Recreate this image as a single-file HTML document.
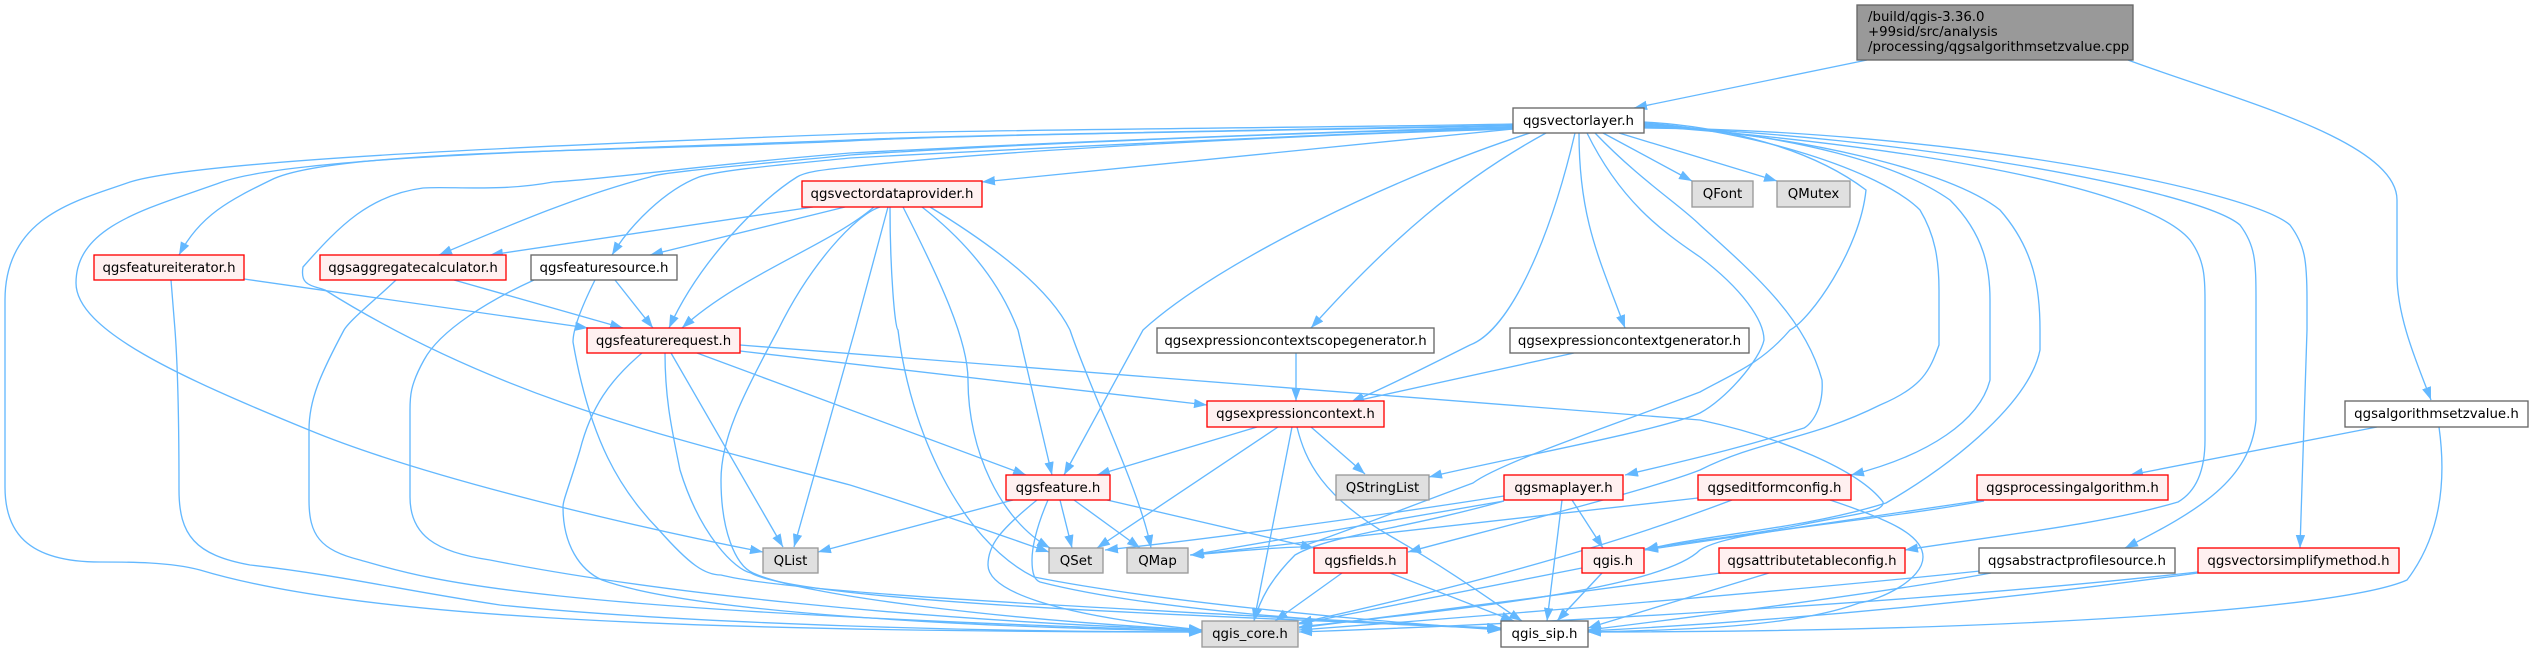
<!DOCTYPE html>
<html><head><meta charset="utf-8"><style>
html,body{margin:0;padding:0;background:#fff}
svg{display:block}
text{font-family:"DejaVu Sans",sans-serif;font-size:13.33px;fill:#000;text-anchor:middle}
.e path{fill:none;stroke:#63b8ff;stroke-width:1.33}
.n rect{stroke-width:1.33}
.r{fill:#fff0f0;stroke:#f00}
.w{fill:#fff;stroke:#666}
.g{fill:#e0e0e0;stroke:#999}
</style></head><body>
<svg width="2533" height="652" viewBox="0 0 2533 652" xmlns="http://www.w3.org/2000/svg">
<defs><marker id="a" markerUnits="userSpaceOnUse" markerWidth="15" markerHeight="11" refX="13" refY="4.7" orient="auto"><path d="M0,0 L13,4.7 L0,9.4 Z" style="fill:#63b8ff;stroke:none"/></marker></defs>
<g class="e">
<path marker-end="url(#a)" d="M1867 60 L1634 108"/>
<path marker-end="url(#a)" d="M2128 60 C2230 98 2397 140 2397 200 L2397 275 C2397 320 2420 370 2431 400"/>
<path marker-end="url(#a)" d="M1513 124 C1300 128 950 130 850 134 C550 145 200 160 130 182 C80 200 5 215 5 300 L5 487 C5 530 25 562 100 562 C130 562 170 562 200 570 C350 615 650 632 1202 632"/>
<path marker-end="url(#a)" d="M1513 125 C1300 130 950 135 850 140 C600 150 300 155 222 182 C150 208 76 225 76 283 C76 330 179 377 309 430 C430 480 650 530 763 552"/>
<path marker-end="url(#a)" d="M1513 126 C1300 130 950 135 850 141 C600 152 330 150 271 180 C230 200 200 215 179 255"/>
<path marker-end="url(#a)" d="M1513 127 C1300 132 1000 145 850 153 C700 165 620 178 553 182 C500 192 450 186 423 188 C370 195 340 225 303 267 C300 285 310 285 325 290 C500 400 680 440 850 485 C930 510 1000 535 1049 552"/>
<path marker-end="url(#a)" d="M1513 128 C1300 132 1000 145 850 155 C750 165 660 172 650 177 C580 195 510 225 439 255"/>
<path marker-end="url(#a)" d="M1513 128 C1300 135 1000 150 850 158 C780 165 720 170 699 177 C665 190 630 225 612 255"/>
<path marker-end="url(#a)" d="M1513 129 C1300 135 1000 150 850 167 C820 170 805 172 797 177 C760 200 700 260 669 328"/>
<path marker-end="url(#a)" d="M1513 129 L982 182"/>
<path marker-end="url(#a)" d="M244 279 L588 328"/>
<path marker-end="url(#a)" d="M454 280 L623 328"/>
<path marker-end="url(#a)" d="M813 207 L490 255"/>
<path marker-end="url(#a)" d="M845 207 L650 255"/>
<path marker-end="url(#a)" d="M874 207 C830 245 740 275 682 328"/>
<path marker-end="url(#a)" d="M615 280 L653 328"/>
<path marker-end="url(#a)" d="M888 207 L855 330 L794 547"/>
<path marker-end="url(#a)" d="M880 207 C855 215 810 265 778 330 C740 400 721 440 721 480 C721 530 735 565 753 573 C800 595 1000 620 1202 630"/>
<path marker-end="url(#a)" d="M890 207 C890 270 895 330 898 330 C910 430 960 540 1034 577 C1150 600 1350 620 1501 630"/>
<path marker-end="url(#a)" d="M903 207 C940 280 968 340 968 380 C968 450 1000 520 1050 548"/>
<path marker-end="url(#a)" d="M922 207 C990 260 1010 310 1018 330 L1052 475"/>
<path marker-end="url(#a)" d="M930 207 C1000 250 1050 290 1070 330 C1090 390 1140 490 1151 548"/>
<path marker-end="url(#a)" d="M171 280 L175 330 C178 370 179 430 179 490 C179 535 195 555 250 565 C340 575 400 590 500 605 C700 625 1000 632 1202 632"/>
<path marker-end="url(#a)" d="M396 280 C375 300 350 320 344 330 C320 375 309 400 309 430 L309 500 C309 535 320 550 360 560 C430 580 520 610 1202 631"/>
<path marker-end="url(#a)" d="M534 280 C490 300 440 330 424 360 C410 385 410 397 410 410 L410 497 C410 535 435 552 490 560 C640 590 900 620 1202 630"/>
<path marker-end="url(#a)" d="M595 280 C580 310 573 330 573 342 C590 440 620 490 659 530 C690 565 705 575 721 575 C800 595 1150 610 1501 629"/>
<path marker-end="url(#a)" d="M642 353 C610 380 591 407 580 450 C568 490 563 500 563 507 C563 545 580 570 602 580 C700 615 1000 628 1202 631"/>
<path marker-end="url(#a)" d="M665 353 C665 400 672 430 680 470 C700 535 735 570 751 573 C800 600 1150 615 1501 628"/>
<path marker-end="url(#a)" d="M671 353 L783 547"/>
<path marker-end="url(#a)" d="M697 353 L1026 475"/>
<path marker-end="url(#a)" d="M740 351 L1207 405"/>
<path marker-end="url(#a)" d="M740 345 L1700 420 C1780 437 1859 470 1883 502 C1885 512 1859 513 1800 525 C1750 535 1700 540 1645 549"/>
<path marker-end="url(#a)" d="M1530 133 C1400 175 1220 260 1143 330 L1064 475"/>
<path marker-end="url(#a)" d="M1546 133 C1460 180 1390 240 1311 328"/>
<path marker-end="url(#a)" d="M1575 133 C1550 240 1510 330 1470 345 C1420 370 1380 390 1351 402"/>
<path marker-end="url(#a)" d="M1579 133 C1579 220 1600 260 1625 328"/>
<path marker-end="url(#a)" d="M1603 133 L1692 181"/>
<path marker-end="url(#a)" d="M1619 133 L1777 181"/>
<path marker-end="url(#a)" d="M1587 133 C1620 200 1660 230 1700 257 C1742 289 1764 320 1764 340 C1760 360 1725 400 1700 413 C1663 430 1500 460 1429 477"/>
<path marker-end="url(#a)" d="M1595 133 C1640 180 1680 205 1700 225 C1758 277 1806 320 1822 380 C1824 410 1810 425 1804 428 C1750 445 1710 455 1625 475"/>
<path marker-end="url(#a)" d="M1644 122 C1700 125 1800 140 1866 190 C1860 250 1810 320 1790 330 C1760 365 1730 375 1700 392 C1600 430 1500 463 1473 483 C1400 510 1350 530 1300 547 C1260 548 1220 553 1190 555"/>
<path marker-end="url(#a)" d="M1644 123 C1750 130 1880 170 1920 210 C1935 235 1939 260 1939 290 L1939 345 C1930 370 1923 387 1880 405 C1810 440 1760 440 1700 470 C1650 490 1470 535 1408 552"/>
<path marker-end="url(#a)" d="M1644 124 C1800 135 1900 165 1950 200 C1985 235 1990 270 1990 300 L1990 380 C1980 420 1930 455 1851 475"/>
<path marker-end="url(#a)" d="M1644 125 C1800 135 1950 170 2000 210 C2035 250 2040 290 2040 330 L2040 350 C2030 400 1960 460 1886 503 C1800 530 1700 535 1645 550"/>
<path marker-end="url(#a)" d="M1644 126 C1850 140 2140 180 2190 240 C2205 260 2205 280 2205 300 L2205 440 C2205 480 2190 495 2178 502 C2100 525 2000 535 1905 550"/>
<path marker-end="url(#a)" d="M1644 127 C1900 135 2200 190 2240 225 C2255 245 2256 260 2256 300 L2256 420 C2250 480 2200 510 2125 548"/>
<path marker-end="url(#a)" d="M1644 128 C1950 130 2250 190 2290 225 C2305 245 2307 260 2307 300 L2307 330 L2300 548"/>
<path marker-end="url(#a)" d="M1296 353 L1296 401"/>
<path marker-end="url(#a)" d="M1574 353 L1351 402"/>
<path marker-end="url(#a)" d="M1257 427 L1097 475"/>
<path marker-end="url(#a)" d="M1278 427 L1097 548"/>
<path marker-end="url(#a)" d="M1292 427 L1254 621"/>
<path marker-end="url(#a)" d="M1297 427 C1305 460 1322 497 1392 537 C1450 570 1505 610 1522 621"/>
<path marker-end="url(#a)" d="M1311 427 L1365 474"/>
<path marker-end="url(#a)" d="M1013 500 L818 552"/>
<path marker-end="url(#a)" d="M1037 500 C1000 530 988 545 988 565 C988 590 1050 615 1202 630"/>
<path marker-end="url(#a)" d="M1048 500 C1035 530 1032 550 1032 560 C1032 575 1035 580 1040 582 C1150 610 1350 625 1500 628"/>
<path marker-end="url(#a)" d="M1060 500 L1072 548"/>
<path marker-end="url(#a)" d="M1074 500 L1140 548"/>
<path marker-end="url(#a)" d="M1107 500 L1314 548"/>
<path marker-end="url(#a)" d="M1342 573 L1275 621"/>
<path marker-end="url(#a)" d="M1390 573 L1514 621"/>
<path marker-end="url(#a)" d="M1504 496 C1350 520 1200 540 1105 550"/>
<path marker-end="url(#a)" d="M1504 501 L1191 555"/>
<path marker-end="url(#a)" d="M1504 501 C1400 530 1330 535 1295 555 C1270 580 1260 600 1254 621"/>
<path marker-end="url(#a)" d="M1562 500 L1547 621"/>
<path marker-end="url(#a)" d="M1572 500 L1603 548"/>
<path marker-end="url(#a)" d="M1698 498 L1191 555"/>
<path marker-end="url(#a)" d="M1732 500 C1600 550 1450 590 1299 623"/>
<path marker-end="url(#a)" d="M1830 500 C1890 520 1923 535 1923 557 C1923 580 1880 600 1859 603 C1800 625 1700 630 1588 632"/>
<path marker-end="url(#a)" d="M1984 500 L1645 550"/>
<path marker-end="url(#a)" d="M1984 501 C1850 525 1730 530 1700 550 C1660 590 1450 610 1299 627"/>
<path marker-end="url(#a)" d="M1721 573 C1600 590 1400 615 1299 628"/>
<path marker-end="url(#a)" d="M1769 573 L1588 628"/>
<path marker-end="url(#a)" d="M1980 571 C1800 590 1500 615 1299 630"/>
<path marker-end="url(#a)" d="M1991 573 C1900 590 1750 610 1588 630"/>
<path marker-end="url(#a)" d="M2198 572 C1900 605 1500 625 1299 632"/>
<path marker-end="url(#a)" d="M2198 573 C2000 600 1800 620 1588 631"/>
<path marker-end="url(#a)" d="M2377 427 L2130 475"/>
<path marker-end="url(#a)" d="M2439 427 C2445 470 2445 530 2407 580 C2340 610 2000 632 1588 632"/>
<path marker-end="url(#a)" d="M1582 568 L1299 624"/>
<path marker-end="url(#a)" d="M1602 573 L1557 621"/>
</g>
<g class="n">
<rect class="r" x="94" y="255" width="150" height="25"/><text x="169" y="272">qgsfeatureiterator.h</text>
<rect class="r" x="320" y="255" width="186" height="25"/><text x="413" y="272">qgsaggregatecalculator.h</text>
<rect class="w" x="531" y="255" width="146" height="25"/><text x="604" y="272">qgsfeaturesource.h</text>
<rect class="r" x="802" y="181" width="180" height="26"/><text x="892" y="198">qgsvectordataprovider.h</text>
<rect class="r" x="587" y="328" width="153" height="25"/><text x="663.5" y="345">qgsfeaturerequest.h</text>
<rect class="g" x="763" y="548" width="55" height="25"/><text x="790.5" y="565">QList</text>
<rect style="fill:#999;stroke:#666" x="1857" y="5" width="276" height="55"/>
<text x="1868" y="21" style="text-anchor:start">/build/qgis-3.36.0</text>
<text x="1868" y="36" style="text-anchor:start">+99sid/src/analysis</text>
<text x="1868" y="51" style="text-anchor:start">/processing/qgsalgorithmsetzvalue.cpp</text>
<rect class="w" x="1513" y="108" width="131" height="25"/><text x="1578.5" y="125">qgsvectorlayer.h</text>
<rect class="w" x="1157" y="328" width="277" height="25"/><text x="1295.5" y="345">qgsexpressioncontextscopegenerator.h</text>
<rect class="w" x="1510" y="328" width="239" height="25"/><text x="1629.5" y="345">qgsexpressioncontextgenerator.h</text>
<rect class="g" x="1692" y="181" width="61" height="26"/><text x="1722.5" y="198">QFont</text>
<rect class="g" x="1777" y="181" width="73" height="26"/><text x="1813.5" y="198">QMutex</text>
<rect class="r" x="1207" y="401" width="177" height="26"/><text x="1295.5" y="418">qgsexpressioncontext.h</text>
<rect class="r" x="1006" y="475" width="104" height="25"/><text x="1058" y="492">qgsfeature.h</text>
<rect class="g" x="1336" y="475" width="93" height="25"/><text x="1382.5" y="492">QStringList</text>
<rect class="r" x="1504" y="475" width="119" height="25"/><text x="1563.5" y="492">qgsmaplayer.h</text>
<rect class="r" x="1698" y="475" width="153" height="25"/><text x="1774.5" y="492">qgseditformconfig.h</text>
<rect class="r" x="1977" y="475" width="191" height="25"/><text x="2072.5" y="492">qgsprocessingalgorithm.h</text>
<rect class="w" x="2345" y="401" width="183" height="26"/><text x="2436.5" y="418">qgsalgorithmsetzvalue.h</text>
<rect class="g" x="1049" y="548" width="54" height="25"/><text x="1076" y="565">QSet</text>
<rect class="g" x="1127" y="548" width="61" height="25"/><text x="1157.5" y="565">QMap</text>
<rect class="r" x="1314" y="548" width="93" height="25"/><text x="1360.5" y="565">qgsfields.h</text>
<rect class="r" x="1582" y="548" width="62" height="25"/><text x="1613" y="565">qgis.h</text>
<rect class="r" x="1719" y="548" width="186" height="25"/><text x="1812" y="565">qgsattributetableconfig.h</text>
<rect class="w" x="1979" y="548" width="196" height="25"/><text x="2077" y="565">qgsabstractprofilesource.h</text>
<rect class="r" x="2198" y="548" width="201" height="25"/><text x="2298.5" y="565">qgsvectorsimplifymethod.h</text>
<rect class="g" x="1202" y="621" width="96" height="26"/><text x="1250" y="638">qgis_core.h</text>
<rect class="w" x="1501" y="621" width="87" height="26"/><text x="1544.5" y="638">qgis_sip.h</text>
</g>
</svg>
</body></html>
